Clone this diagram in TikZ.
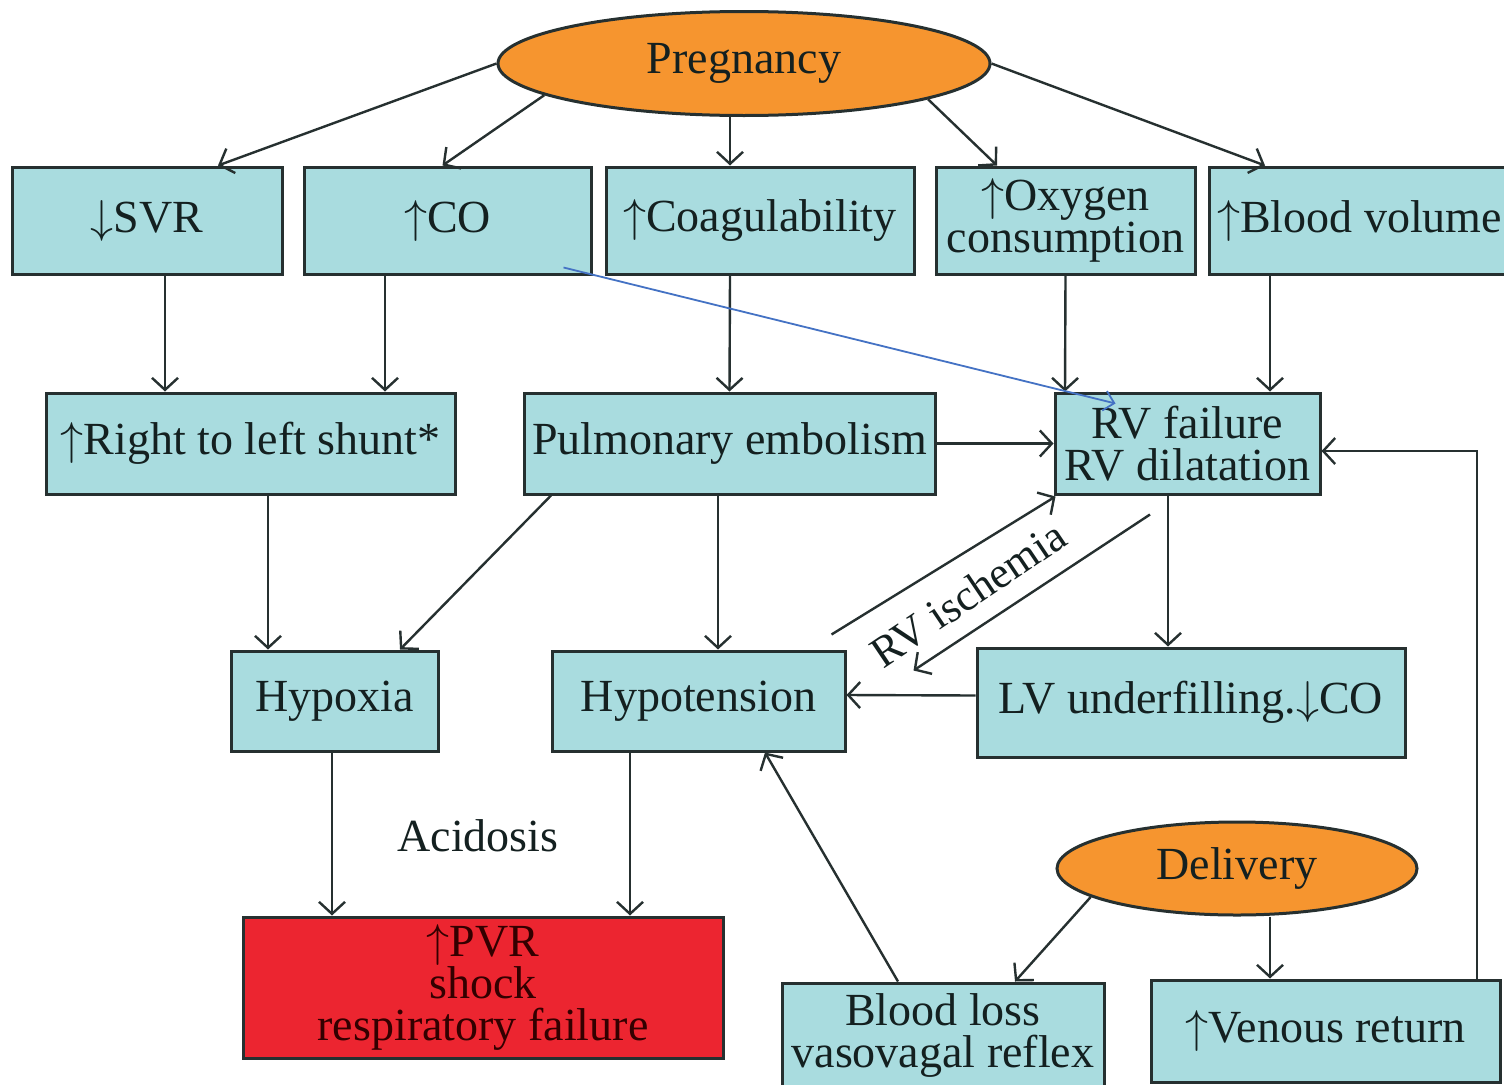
\documentclass[tikz,border=0pt]{standalone}
\usepackage{fontspec}
\setmainfont{Liberation Serif}
\usetikzlibrary{arrows.meta,shapes.geometric}
\definecolor{boxfill}{HTML}{A9DCDF}
\definecolor{orangefill}{HTML}{F6952F}
\definecolor{redfill}{HTML}{EC2530}
\definecolor{edgecol}{HTML}{263030}
\definecolor{txtcol}{HTML}{142020}
\definecolor{bluearr}{HTML}{4472C4}
\newcommand\mainfs{\fontsize{46}{42}\selectfont}
\newcommand\oxyfs{\fontsize{46}{37}\selectfont}
\newcommand\upa{\scalebox{1.85}{\fontsize{24.88}{28}\selectfont$\uparrow$}}
\newcommand\dna{\scalebox{1.85}{\fontsize{24.88}{28}\selectfont$\downarrow$}}
\begin{document}
\begin{tikzpicture}[x=1pt,y=-1pt,
  cbox/.style={draw=edgecol, fill=boxfill, line width=3pt, inner sep=0pt, align=center, font=\mainfs, text=txtcol},
  redbox/.style={cbox, fill=redfill, text=black!80!red},
  ovalnode/.style={ellipse, draw=edgecol, fill=orangefill, line width=3pt, inner sep=0pt, font=\mainfs, text=txtcol},
  arr/.style={draw=edgecol, line width=2.4pt, -{Straight Barb[length=12pt,width=26pt]}},
  bluearrow/.style={draw=bluearr, line width=1.8pt, -{Straight Barb[length=10pt,width=20pt]}},
  plaintext/.style={font=\mainfs, text=txtcol, inner sep=0pt}]
\useasboundingbox[fill=white] (0,0) rectangle (1504,1084);

% nodes
\node[ovalnode, minimum width=492pt, minimum height=104pt] (preg) at (744,63.5) {Pregnancy};
\node[cbox, minimum width=270pt, minimum height=107pt] (svr) at (147,220.5) {\dna SVR};
\node[cbox, minimum width=287pt, minimum height=107pt] (co) at (447.5,220.5) {\upa CO};
\node[cbox, minimum width=308pt, minimum height=107pt] (coag) at (760,220.5) {\upa Coagulability};
\node[cbox, minimum width=259pt, minimum height=107pt, font=\oxyfs] (oxy) at (1065.5,220.5) {\upa Oxygen\\consumption};
\node[cbox, minimum width=301pt, minimum height=107pt] (bvol) at (1359.5,220.5) {\upa Blood volume};
\node[cbox, minimum width=409pt, minimum height=101pt] (shunt) at (250.5,443.5) {\upa Right to left shunt*};
\node[cbox, minimum width=411pt, minimum height=101pt] (pe) at (729.5,443.5) {Pulmonary embolism};
\node[cbox, minimum width=265pt, minimum height=101pt] (rv) at (1187.5,443.5) {RV failure\\RV dilatation};
\node[cbox, minimum width=207pt, minimum height=100pt] (hypoxia) at (334.5,701) {Hypoxia};
\node[cbox, minimum width=293pt, minimum height=100pt] (hypot) at (698.5,701) {Hypotension};
\node[cbox, minimum width=428pt, minimum height=109pt] (lv) at (1191,702.5) {LV underfilling.\dna CO};
\node[redbox, minimum width=480pt, minimum height=141pt] (red) at (483,987.5) {\upa PVR\\shock\\respiratory failure};
\node[plaintext] (acid) at (478,836) {Acidosis};
\node[ovalnode, minimum width=360pt, minimum height=93pt] (deliv) at (1237,868.5) {Delivery};
\node[cbox, minimum width=322pt, minimum height=104pt] (bloss) at (943,1035) {Blood loss\\vasovagal reflex};
\node[cbox, minimum width=349pt, minimum height=102pt] (venous) at (1325.5,1031) {\upa Venous return};

% from pregnancy
\draw[arr] (preg.180) -- ([xshift=71pt]svr.north);
\draw[arr] (preg.189) -- ([xshift=-5pt]co.north);
\draw[arr] ([xshift=-14pt]preg.south) -- ([xshift=-30pt]coag.north);
\draw[arr] (preg.-11) -- ([xshift=-68.5pt]oxy.north);
\draw[arr] (preg.0) -- ([xshift=-94.5pt]bvol.north);

% top row down
\draw[arr] ([xshift=18pt]svr.south) -- ([xshift=-85.5pt]shunt.north);
\draw[arr] ([xshift=-62.5pt]co.south) -- ([xshift=134.5pt]shunt.north);
\draw[arr] ([xshift=-30pt]coag.south) -- (pe.north);
\draw[arr] (oxy.south) -- ([xshift=-122.5pt]rv.north);
\draw[arr] ([xshift=-89.5pt]bvol.south) -- ([xshift=82.5pt]rv.north);

% second row
\draw[arr] (pe.east) -- (rv.west);
\draw[arr] ([xshift=17.5pt]shunt.south) -- ([xshift=-66.5pt]hypoxia.north);
\draw[arr] ([xshift=-178.5pt]pe.south) -- ([xshift=65.5pt]hypoxia.north);
\draw[arr] ([xshift=-11.5pt]pe.south) -- ([xshift=19.5pt]hypot.north);
\draw[arr] ([xshift=-19.5pt]rv.south) -- ([xshift=-23pt]lv.north);

% third row
\draw[arr] ([yshift=7pt]lv.west) -- ([yshift=6pt]hypot.east);
\draw[arr] ([shift={(-15pt,15pt)}]hypot.north east) -- ([shift={(2pt,-1pt)}]rv.south west);
\draw[arr] ([shift={(-37.5pt,-19pt)}]rv.south) -- ([shift={(67pt,-21pt)}]hypot.north east);
\node[plaintext, rotate=34, font=\fontsize{44}{44}\selectfont] (isch) at (968,594) {RV ischemia};

% bottom
\draw[arr] ([xshift=-2.5pt]hypoxia.south) -- ([xshift=-151pt]red.north);
\draw[arr] ([xshift=-68.5pt]hypot.south) -- ([xshift=147pt]red.north);
\draw[arr] (deliv.191) -- ([xshift=72pt]bloss.north);
\draw[arr] ([xshift=33pt]deliv.south) -- ([xshift=-55.5pt]venous.north);
\draw[arr] ([xshift=-45pt]bloss.north) -- ([xshift=66.5pt]hypot.south);
\draw[arr] ([xshift=151.5pt]venous.north) |- ([yshift=-7.5pt]rv.east);

% blue overlay arrow
\draw[bluearrow] ([shift={(-29pt,8pt)}]co.south east) -- ([shift={(62pt,-12pt)}]rv.north west);
\end{tikzpicture}
\end{document}
